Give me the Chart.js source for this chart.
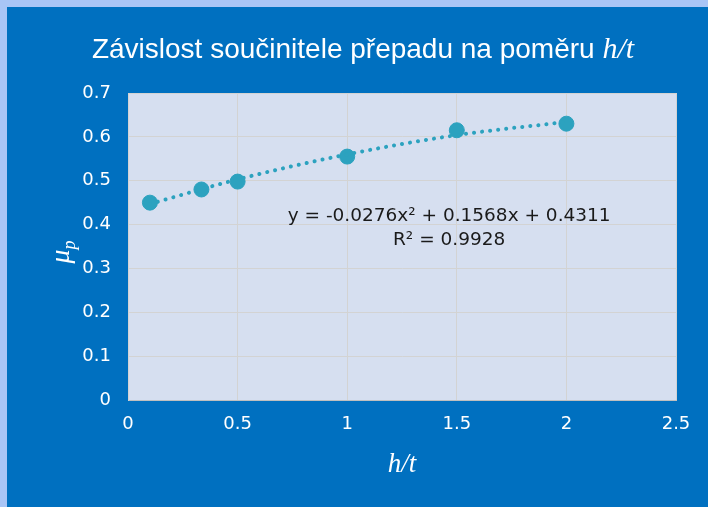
<!DOCTYPE html>
<html>
<head>
<meta charset="utf-8">
<script src="https://cdn.jsdelivr.net/npm/chart.js@4"></script>
<style>
  html, body { margin: 0; padding: 0; background: #a9c5f6; }
  #wrap { position: absolute; left: 7px; top: 7px; width: 701px; height: 500px; background: #0070c0; }
</style>
</head>
<body>
<div id="wrap"><canvas id="graf" width="701" height="500"></canvas></div>
<script>
// Naměřené hodnoty
const hT = [0.1, 0.335, 0.5, 1, 1.5, 2];              // poměr h/t
const mu = [0.45, 0.48, 0.498, 0.555, 0.615, 0.63];   // součinitel přepadu
// Spojnice trendu (polynom 2. stupně)
const trendX = [0.1, 0.5, 1, 1.5, 2];
const trendY = [0.447, 0.503, 0.560, 0.604, 0.634];
const rovnice = ['y = -0.0276x\u00B2 + 0.1568x + 0.4311', 'R\u00B2 = 0.9928'];
const xTicks = [0, 0.5, 1, 1.5, 2, 2.5];
const yTicks = [0, 0.1, 0.2, 0.3, 0.4, 0.5, 0.6, 0.7];

const barva = '#2ca2bf';
const sans = "'DejaVu Sans', sans-serif";
const titul = "'Liberation Sans', Arial, sans-serif";
const serif = "'Liberation Serif', 'DejaVu Serif', serif";

// Plugin pro pozadí, nadpis, popisky os a rovnici
const popisky = {
  id: 'popisky',
  beforeDraw(chart) {
    const { ctx, chartArea: a } = chart;
    ctx.save();
    ctx.fillStyle = '#d6dff0';
    ctx.fillRect(a.left, a.top, a.right - a.left, a.bottom - a.top);
    ctx.restore();
  },
  afterDraw(chart) {
    const { ctx, chartArea: a, scales } = chart;
    ctx.save();
    ctx.fillStyle = '#ffffff';
    ctx.textBaseline = 'alphabetic';

    // nadpis
    const t1 = 'Závislost součinitele přepadu na poměru ';
    const t2 = 'h/t';
    ctx.font = '28px ' + titul;
    const w1 = ctx.measureText(t1).width;
    ctx.font = 'italic 30px ' + serif;
    const w2 = ctx.measureText(t2).width;
    let x0 = 356 - (w1 + w2) / 2;
    ctx.font = '28px ' + titul;
    ctx.textAlign = 'left';
    ctx.fillText(t1, x0, 51);
    ctx.font = 'italic 30px ' + serif;
    ctx.fillText(t2, x0 + w1, 51);

    // popisek osy x
    ctx.textAlign = 'center';
    ctx.font = 'italic 27px ' + serif;
    ctx.fillText('h/t', (a.left + a.right) / 2, 465);

    // popisek osy y (mu s indexem p)
    ctx.translate(62, 245);
    ctx.rotate(-Math.PI / 2);
    ctx.textAlign = 'left';
    ctx.font = 'italic 28px ' + serif;
    const wm = ctx.measureText('\u03BC').width;
    ctx.font = 'italic 18px ' + serif;
    const wp = ctx.measureText('p').width;
    const sx = -(wm + wp) / 2;
    ctx.font = 'italic 28px ' + serif;
    ctx.fillText('\u03BC', sx, 0);
    ctx.font = 'italic 18px ' + serif;
    ctx.fillText('p', sx + wm, 6);
    ctx.setTransform(1, 0, 0, 1, 0, 0);

    // rovnice trendu
    const ex = scales.x.getPixelForValue(1.465);
    const ey = scales.y.getPixelForValue(0.41);
    ctx.fillStyle = '#1a1a1a';
    ctx.textAlign = 'center';
    ctx.font = '18.5px ' + sans;
    ctx.fillText(rovnice[0], ex, ey + 1);
    ctx.fillText(rovnice[1], ex, ey + 25);
    ctx.restore();
  }
};

new Chart(document.getElementById('graf'), {
  type: 'scatter',
  data: {
    datasets: [
      {
        label: 'trend',
        type: 'line',
        data: trendX.map((x, i) => ({ x, y: trendY[i] })),
        borderColor: barva,
        borderWidth: 4,
        borderDash: [0.1, 8],
        borderCapStyle: 'round',
        cubicInterpolationMode: 'monotone',
        pointRadius: 0,
        fill: false
      },
      {
        label: 'mu',
        data: hT.map((x, i) => ({ x, y: mu[i] })),
        backgroundColor: barva,
        borderColor: barva,
        pointRadius: 7.5,
        pointHoverRadius: 7.5
      }
    ]
  },
  options: {
    responsive: false,
    animation: false,
    layout: { padding: { left: 0, right: 32, top: 86, bottom: 0 } },
    plugins: { legend: { display: false }, tooltip: { enabled: false }, title: { display: false } },
    scales: {
      x: {
        type: 'linear', min: 0, max: 2.5,
        afterBuildTicks: s => { s.ticks = xTicks.map(v => ({ value: v })); },
        afterFit: s => { s.height = 107; },
        grid: { color: '#d3d3d3', drawTicks: false },
        border: { color: '#bfbfbf' },
        ticks: { color: '#ffffff', padding: 14, font: { family: sans, size: 18 }, callback: v => String(v) }
      },
      y: {
        type: 'linear', min: 0, max: 0.7,
        afterBuildTicks: s => { s.ticks = yTicks.map(v => ({ value: v })); },
        afterFit: s => { s.width = 121; },
        grid: { color: '#d3d3d3', drawTicks: false },
        border: { color: '#d3d3d3' },
        ticks: { color: '#ffffff', padding: 17, font: { family: sans, size: 18 }, callback: v => String(v) }
      }
    }
  },
  plugins: [popisky]
});
</script>
</body>
</html>
